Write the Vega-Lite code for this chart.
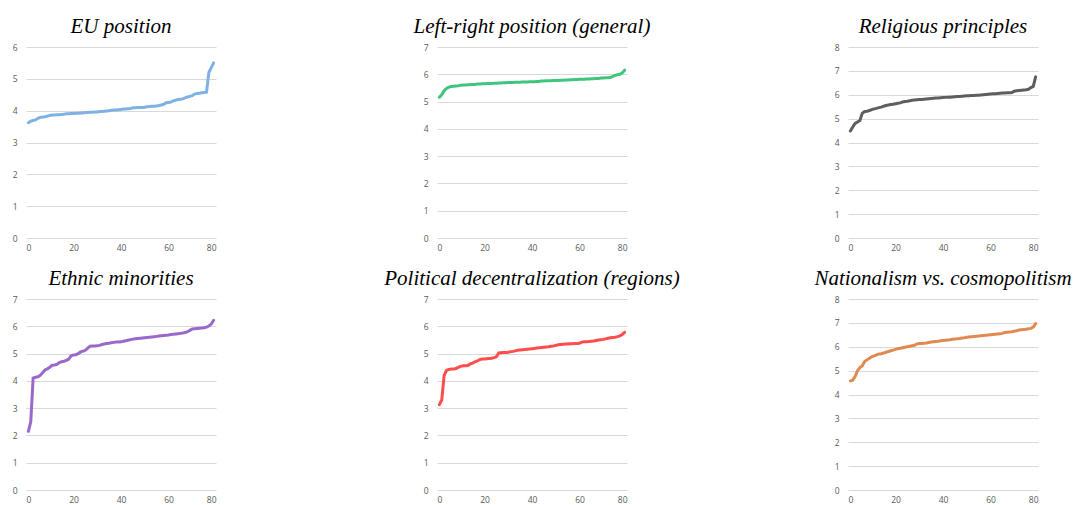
{
"$schema": "https://vega.github.io/schema/vega-lite/v6.json",
"padding": {"left": 12, "top": 16, "right": 0, "bottom": 0},
"background": "white",
"data": {"values": [
{"x":1,"eu":3.62,"lr":5.16,"rel":4.48,"eth":2.15,"pol":3.13,"nat":4.57},
{"x":2,"eu":3.67,"lr":5.25,"rel":4.65,"eth":2.5,"pol":3.3,"nat":4.6},
{"x":3,"eu":3.69,"lr":5.4,"rel":4.8,"eth":4.1,"pol":4.2,"nat":4.75},
{"x":4,"eu":3.71,"lr":5.48,"rel":4.86,"eth":4.13,"pol":4.38,"nat":5.0},
{"x":5,"eu":3.76,"lr":5.53,"rel":4.92,"eth":4.15,"pol":4.42,"nat":5.13},
{"x":6,"eu":3.79,"lr":5.55,"rel":5.22,"eth":4.2,"pol":4.43,"nat":5.2},
{"x":7,"eu":3.8,"lr":5.56,"rel":5.3,"eth":4.3,"pol":4.43,"nat":5.38},
{"x":8,"eu":3.81,"lr":5.57,"rel":5.31,"eth":4.4,"pol":4.45,"nat":5.45},
{"x":9,"eu":3.83,"lr":5.58,"rel":5.34,"eth":4.44,"pol":4.5,"nat":5.52},
{"x":10,"eu":3.85,"lr":5.6,"rel":5.38,"eth":4.5,"pol":4.53,"nat":5.58},
{"x":11,"eu":3.86,"lr":5.61,"rel":5.41,"eth":4.57,"pol":4.55,"nat":5.62},
{"x":12,"eu":3.86,"lr":5.61,"rel":5.43,"eth":4.58,"pol":4.55,"nat":5.66},
{"x":13,"eu":3.87,"lr":5.62,"rel":5.46,"eth":4.6,"pol":4.56,"nat":5.7},
{"x":14,"eu":3.87,"lr":5.62,"rel":5.48,"eth":4.67,"pol":4.62,"nat":5.71},
{"x":15,"eu":3.88,"lr":5.63,"rel":5.52,"eth":4.7,"pol":4.65,"nat":5.74},
{"x":16,"eu":3.89,"lr":5.63,"rel":5.55,"eth":4.72,"pol":4.7,"nat":5.77},
{"x":17,"eu":3.9,"lr":5.64,"rel":5.57,"eth":4.75,"pol":4.73,"nat":5.8},
{"x":18,"eu":3.9,"lr":5.64,"rel":5.59,"eth":4.8,"pol":4.78,"nat":5.83},
{"x":19,"eu":3.91,"lr":5.65,"rel":5.6,"eth":4.92,"pol":4.8,"nat":5.86},
{"x":20,"eu":3.91,"lr":5.65,"rel":5.62,"eth":4.95,"pol":4.8,"nat":5.89},
{"x":21,"eu":3.92,"lr":5.66,"rel":5.64,"eth":4.96,"pol":4.81,"nat":5.92},
{"x":22,"eu":3.92,"lr":5.66,"rel":5.66,"eth":5.0,"pol":4.82,"nat":5.94},
{"x":23,"eu":3.93,"lr":5.66,"rel":5.7,"eth":5.06,"pol":4.83,"nat":5.96},
{"x":24,"eu":3.93,"lr":5.67,"rel":5.72,"eth":5.09,"pol":4.85,"nat":5.98},
{"x":25,"eu":3.94,"lr":5.67,"rel":5.73,"eth":5.12,"pol":4.88,"nat":6.0},
{"x":26,"eu":3.94,"lr":5.68,"rel":5.75,"eth":5.2,"pol":5.02,"nat":6.02},
{"x":27,"eu":3.95,"lr":5.68,"rel":5.77,"eth":5.27,"pol":5.03,"nat":6.04},
{"x":28,"eu":3.95,"lr":5.69,"rel":5.78,"eth":5.28,"pol":5.04,"nat":6.06},
{"x":29,"eu":3.96,"lr":5.69,"rel":5.79,"eth":5.28,"pol":5.04,"nat":6.12},
{"x":30,"eu":3.96,"lr":5.7,"rel":5.8,"eth":5.29,"pol":5.05,"nat":6.14},
{"x":31,"eu":3.97,"lr":5.7,"rel":5.8,"eth":5.3,"pol":5.07,"nat":6.14},
{"x":32,"eu":3.97,"lr":5.7,"rel":5.81,"eth":5.33,"pol":5.08,"nat":6.15},
{"x":33,"eu":3.98,"lr":5.71,"rel":5.82,"eth":5.35,"pol":5.1,"nat":6.16},
{"x":34,"eu":3.99,"lr":5.71,"rel":5.83,"eth":5.37,"pol":5.12,"nat":6.18},
{"x":35,"eu":4.0,"lr":5.71,"rel":5.84,"eth":5.38,"pol":5.13,"nat":6.2},
{"x":36,"eu":4.01,"lr":5.72,"rel":5.85,"eth":5.4,"pol":5.14,"nat":6.21},
{"x":37,"eu":4.02,"lr":5.72,"rel":5.86,"eth":5.41,"pol":5.15,"nat":6.22},
{"x":38,"eu":4.02,"lr":5.72,"rel":5.86,"eth":5.42,"pol":5.16,"nat":6.23},
{"x":39,"eu":4.03,"lr":5.73,"rel":5.87,"eth":5.42,"pol":5.17,"nat":6.25},
{"x":40,"eu":4.04,"lr":5.73,"rel":5.88,"eth":5.43,"pol":5.18,"nat":6.26},
{"x":41,"eu":4.05,"lr":5.73,"rel":5.89,"eth":5.45,"pol":5.19,"nat":6.27},
{"x":42,"eu":4.05,"lr":5.74,"rel":5.9,"eth":5.47,"pol":5.2,"nat":6.28},
{"x":43,"eu":4.06,"lr":5.74,"rel":5.9,"eth":5.49,"pol":5.21,"nat":6.29},
{"x":44,"eu":4.07,"lr":5.75,"rel":5.91,"eth":5.51,"pol":5.22,"nat":6.31},
{"x":45,"eu":4.09,"lr":5.75,"rel":5.92,"eth":5.53,"pol":5.23,"nat":6.32},
{"x":46,"eu":4.09,"lr":5.76,"rel":5.93,"eth":5.54,"pol":5.24,"nat":6.34},
{"x":47,"eu":4.1,"lr":5.76,"rel":5.93,"eth":5.55,"pol":5.25,"nat":6.35},
{"x":48,"eu":4.1,"lr":5.76,"rel":5.94,"eth":5.56,"pol":5.27,"nat":6.37},
{"x":49,"eu":4.1,"lr":5.77,"rel":5.95,"eth":5.57,"pol":5.28,"nat":6.38},
{"x":50,"eu":4.11,"lr":5.77,"rel":5.96,"eth":5.58,"pol":5.3,"nat":6.4},
{"x":51,"eu":4.12,"lr":5.77,"rel":5.96,"eth":5.59,"pol":5.32,"nat":6.41},
{"x":52,"eu":4.13,"lr":5.78,"rel":5.97,"eth":5.6,"pol":5.33,"nat":6.42},
{"x":53,"eu":4.14,"lr":5.78,"rel":5.97,"eth":5.61,"pol":5.34,"nat":6.43},
{"x":54,"eu":4.14,"lr":5.79,"rel":5.98,"eth":5.62,"pol":5.35,"nat":6.44},
{"x":55,"eu":4.15,"lr":5.79,"rel":5.98,"eth":5.63,"pol":5.35,"nat":6.45},
{"x":56,"eu":4.16,"lr":5.8,"rel":5.99,"eth":5.64,"pol":5.36,"nat":6.46},
{"x":57,"eu":4.18,"lr":5.8,"rel":6.0,"eth":5.65,"pol":5.36,"nat":6.47},
{"x":58,"eu":4.2,"lr":5.81,"rel":6.01,"eth":5.66,"pol":5.37,"nat":6.48},
{"x":59,"eu":4.25,"lr":5.81,"rel":6.02,"eth":5.67,"pol":5.37,"nat":6.49},
{"x":60,"eu":4.26,"lr":5.82,"rel":6.03,"eth":5.68,"pol":5.38,"nat":6.5},
{"x":61,"eu":4.27,"lr":5.82,"rel":6.04,"eth":5.7,"pol":5.42,"nat":6.51},
{"x":62,"eu":4.31,"lr":5.82,"rel":6.04,"eth":5.71,"pol":5.43,"nat":6.52},
{"x":63,"eu":4.33,"lr":5.83,"rel":6.05,"eth":5.72,"pol":5.43,"nat":6.53},
{"x":64,"eu":4.35,"lr":5.83,"rel":6.06,"eth":5.73,"pol":5.44,"nat":6.54},
{"x":65,"eu":4.36,"lr":5.84,"rel":6.07,"eth":5.74,"pol":5.45,"nat":6.56},
{"x":66,"eu":4.37,"lr":5.84,"rel":6.07,"eth":5.75,"pol":5.46,"nat":6.6},
{"x":67,"eu":4.4,"lr":5.85,"rel":6.08,"eth":5.77,"pol":5.48,"nat":6.61},
{"x":68,"eu":4.43,"lr":5.85,"rel":6.08,"eth":5.8,"pol":5.5,"nat":6.62},
{"x":69,"eu":4.45,"lr":5.86,"rel":6.09,"eth":5.85,"pol":5.51,"nat":6.63},
{"x":70,"eu":4.47,"lr":5.86,"rel":6.15,"eth":5.9,"pol":5.52,"nat":6.65},
{"x":71,"eu":4.52,"lr":5.87,"rel":6.17,"eth":5.91,"pol":5.54,"nat":6.67},
{"x":72,"eu":4.54,"lr":5.87,"rel":6.18,"eth":5.92,"pol":5.56,"nat":6.7},
{"x":73,"eu":4.55,"lr":5.88,"rel":6.19,"eth":5.93,"pol":5.58,"nat":6.71},
{"x":74,"eu":4.56,"lr":5.92,"rel":6.2,"eth":5.94,"pol":5.59,"nat":6.72},
{"x":75,"eu":4.57,"lr":5.96,"rel":6.21,"eth":5.95,"pol":5.6,"nat":6.73},
{"x":76,"eu":4.58,"lr":5.98,"rel":6.23,"eth":5.97,"pol":5.62,"nat":6.75},
{"x":77,"eu":5.2,"lr":6.0,"rel":6.3,"eth":6.01,"pol":5.65,"nat":6.77},
{"x":78,"eu":5.35,"lr":6.05,"rel":6.35,"eth":6.08,"pol":5.7,"nat":6.82},
{"x":79,"eu":5.5,"lr":6.15,"rel":6.75,"eth":6.22,"pol":5.78,"nat":6.97}
]},
"columns": 3,
"spacing": {"column": 221, "row": 61},
"bounds": "flush",
"concat": [
{"title": {"text": "EU position"}, "width": 190, "height": 191,
 "mark": {"type": "line", "color": "#7fb1e3", "strokeWidth": 3, "strokeCap": "round"},
 "encoding": {"x": {"field": "x", "type": "quantitative", "scale": {"domain": [0, 80]}, "axis": {"values": [0,20,40,60,80], "title": null}},
  "y": {"field": "eu", "type": "quantitative", "scale": {"domain": [0, 6], "nice": false}, "axis": {"values": [0,1,2,3,4,5,6], "title": null}}}},
{"title": {"text": "Left-right position (general)"}, "width": 190, "height": 191,
 "mark": {"type": "line", "color": "#3fc57d", "strokeWidth": 3, "strokeCap": "round"},
 "encoding": {"x": {"field": "x", "type": "quantitative", "scale": {"domain": [0, 80]}, "axis": {"values": [0,20,40,60,80], "title": null}},
  "y": {"field": "lr", "type": "quantitative", "scale": {"domain": [0, 7], "nice": false}, "axis": {"values": [0,1,2,3,4,5,6,7], "title": null}}}},
{"title": {"text": "Religious principles"}, "width": 190, "height": 191,
 "mark": {"type": "line", "color": "#5e5e5e", "strokeWidth": 3, "strokeCap": "round"},
 "encoding": {"x": {"field": "x", "type": "quantitative", "scale": {"domain": [0, 80]}, "axis": {"values": [0,20,40,60,80], "title": null}},
  "y": {"field": "rel", "type": "quantitative", "scale": {"domain": [0, 8], "nice": false}, "axis": {"values": [0,1,2,3,4,5,6,7,8], "title": null}}}},
{"title": {"text": "Ethnic minorities"}, "width": 190, "height": 191,
 "mark": {"type": "line", "color": "#9a68c9", "strokeWidth": 3, "strokeCap": "round"},
 "encoding": {"x": {"field": "x", "type": "quantitative", "scale": {"domain": [0, 80]}, "axis": {"values": [0,20,40,60,80], "title": null}},
  "y": {"field": "eth", "type": "quantitative", "scale": {"domain": [0, 7], "nice": false}, "axis": {"values": [0,1,2,3,4,5,6,7], "title": null}}}},
{"title": {"text": "Political decentralization (regions)"}, "width": 190, "height": 191,
 "mark": {"type": "line", "color": "#ff4d4d", "strokeWidth": 3, "strokeCap": "round"},
 "encoding": {"x": {"field": "x", "type": "quantitative", "scale": {"domain": [0, 80]}, "axis": {"values": [0,20,40,60,80], "title": null}},
  "y": {"field": "pol", "type": "quantitative", "scale": {"domain": [0, 7], "nice": false}, "axis": {"values": [0,1,2,3,4,5,6,7], "title": null}}}},
{"title": {"text": "Nationalism vs. cosmopolitism"}, "width": 190, "height": 191,
 "mark": {"type": "line", "color": "#e08a52", "strokeWidth": 3, "strokeCap": "round"},
 "encoding": {"x": {"field": "x", "type": "quantitative", "scale": {"domain": [0, 80]}, "axis": {"values": [0,20,40,60,80], "title": null}},
  "y": {"field": "nat", "type": "quantitative", "scale": {"domain": [0, 8], "nice": false}, "axis": {"values": [0,1,2,3,4,5,6,7,8], "title": null}}}}
],
"config": {
 "view": {"stroke": null},
 "axis": {"domain": false, "ticks": false, "labelFont": "Open Sans", "labelFontSize": 8.5, "labelColor": "#595959", "gridColor": "#d9d9d9", "gridWidth": 1},
 "axisX": {"grid": false, "labelPadding": 5},
 "axisY": {"grid": true, "labelPadding": 9},
 "title": {"font": "Liberation Serif", "fontSize": 21, "fontStyle": "italic", "fontWeight": "normal", "color": "#000000", "anchor": "middle", "frame": "group", "offset": 6}
}
}
